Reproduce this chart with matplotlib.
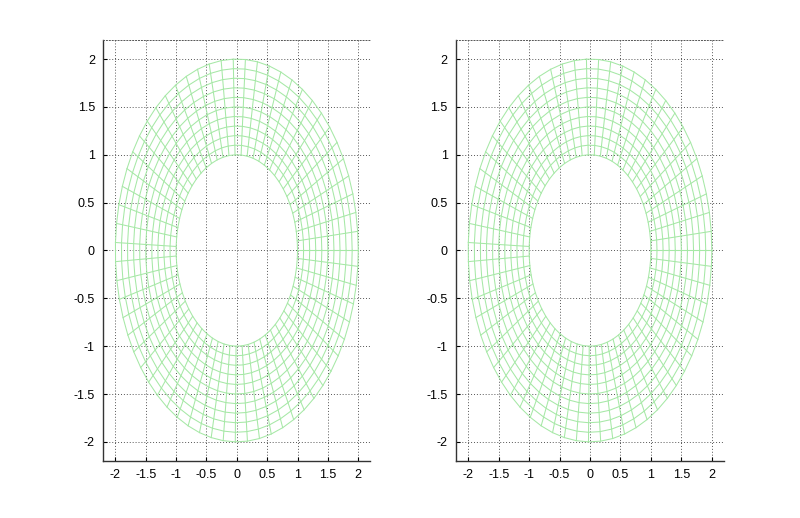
import numpy as np
import matplotlib
matplotlib.use("Agg")
import matplotlib.pyplot as plt

# Mesh definition (annulus): radii of the circles and angles of the radial lines
radii = [1.0, 1.1, 1.2, 1.3, 1.4, 1.5, 1.6, 1.7, 1.8, 1.9, 2.0]
angles = [0.0, 0.1, 0.2, 0.3, 0.4, 0.5, 0.6, 0.7, 0.8, 0.9,
          1.0, 1.1, 1.2, 1.3, 1.4, 1.5, 1.6, 1.7, 1.8, 1.9,
          2.0, 2.1, 2.2, 2.3, 2.4, 2.5, 2.6, 2.7, 2.8, 2.9,
          3.0, 3.1, 3.2, 3.3, 3.4, 3.5, 3.6, 3.7, 3.8, 3.9,
          4.0, 4.1, 4.2, 4.3, 4.4, 4.5, 4.6, 4.7, 4.8, 4.9,
          5.0, 5.1, 5.2, 5.3, 5.4, 5.5, 5.6, 5.7, 5.8, 5.9,
          6.0, 6.1, 6.2, 2 * np.pi]

ticks = [-2, -1.5, -1, -0.5, 0, 0.5, 1, 1.5, 2]
tick_labels = ["-2", "-1.5", "-1", "-0.5", "0", "0.5", "1", "1.5", "2"]

plt.rcParams['font.family'] = ['Liberation Sans', 'DejaVu Sans']

fig = plt.figure(figsize=(8.0, 5.18), dpi=100)
positions = [[0.129, 0.110, 0.334, 0.813], [0.570, 0.110, 0.335, 0.813]]
mesh_color = '#a6e8a6'

for pos in positions:
    ax = fig.add_axes(pos)
    R, T = np.meshgrid(np.array(radii), np.array(angles))
    X = R * np.cos(T)
    Y = R * np.sin(T)
    for j in range(X.shape[1]):
        ax.plot(X[:, j], Y[:, j], color=mesh_color, lw=0.75, zorder=3)
    for i in range(X.shape[0]):
        ax.plot(X[i, :], Y[i, :], color=mesh_color, lw=0.75, zorder=3)
    ax.set_xlim(-2.2, 2.2)
    ax.set_ylim(-2.2, 2.2)
    ax.set_xticks(ticks)
    ax.set_yticks(ticks)
    ax.set_xticklabels(tick_labels)
    ax.set_yticklabels(tick_labels)
    ax.grid(True, linestyle=(0, (1, 2)), color='#555555', lw=0.7, zorder=1)
    ax.set_axisbelow(True)
    ax.tick_params(direction='in', length=3, labelsize=9, colors='black', pad=6)
    ax.spines['right'].set_visible(False)
    ax.spines['top'].set_linestyle((0, (1, 2)))
    ax.spines['top'].set_color('#555555')
    ax.spines['top'].set_linewidth(0.7)
    ax.spines['left'].set_linewidth(1.0)
    ax.spines['left'].set_color('#333333')
    ax.spines['bottom'].set_linewidth(1.0)
    ax.spines['bottom'].set_color('#333333')
    ax.tick_params(top=False, right=False)

fig.savefig("out.png", dpi=100)
